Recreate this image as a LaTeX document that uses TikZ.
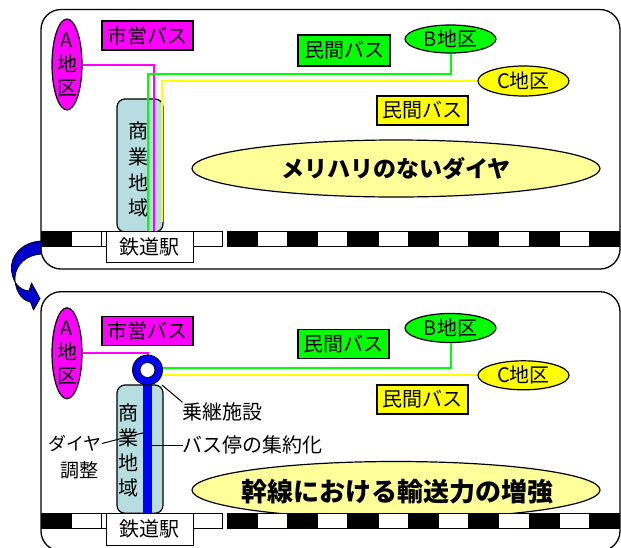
\documentclass[tikz,border=0pt]{standalone}
\usepackage{fontspec}
\setmainfont{Noto Sans CJK JP}
\usetikzlibrary{shapes.geometric}
\definecolor{cmag}{HTML}{FF00FF}
\definecolor{cgrn}{HTML}{00FF00}
\definecolor{cyel}{HTML}{FFFF00}
\definecolor{clyel}{HTML}{FFFF99}
\definecolor{ccom}{HTML}{B8DDE1}
\definecolor{cblue}{HTML}{0000FF}
\definecolor{carrow}{HTML}{0000CC}
\tikzset{
  panel/.style={draw=black, line width=1.3pt, rounded corners=20pt, fill=white},
  combox/.style={draw=black, line width=1.2pt, rounded corners=8pt, fill=ccom},
  lbox/.style={draw=black, line width=1.2pt, minimum width=91pt, minimum height=29pt, inner sep=0pt, font=\fontsize{20}{20}\selectfont},
  area/.style={ellipse, draw=black, line width=1.2pt, inner sep=0pt, font=\fontsize{20}{24}\selectfont, align=center},
  bigell/.style={ellipse, draw=black, line width=1.2pt, fill=clyel, inner sep=0pt, minimum width=408pt, minimum height=57pt},
  station/.style={draw=black, line width=1pt, fill=white, minimum width=87pt, inner sep=0pt, font=\fontsize{20}{20}\selectfont},
  vtext/.style={inner sep=0pt, align=center},
  lbl/.style={inner sep=0pt, font=\fontsize{20}{20}\selectfont},
  busline/.style={line width=2pt},
  railb/.style={fill=black, draw=black, line width=0.6pt},
  railw/.style={fill=white, draw=black, line width=0.8pt},
  leader/.style={draw=black, line width=1pt}
}
\begin{document}
\begin{tikzpicture}[x=1pt,y=-1pt]
\useasboundingbox (0,0) rectangle (621,547);
\fill[white] (0,0) rectangle (621,547);

% ---------------- panels ----------------
\draw[panel] (41,9.5) rectangle (620,269);
\begin{scope}
\clip (0,0) rectangle (621,547);
\draw[panel] (41,291.7) rectangle (620,551);
\end{scope}

% ---------------- top panel ----------------
\draw[combox] (117,99) rectangle (163,232);
\node[vtext, font=\fontsize{20}{25.8}\selectfont] (com1) at (138,169.5) {商\\業\\地\\域};

\node[bigell] (diag1) at (396,168.5) {\fontsize{23}{23}\selectfont\bfseries メリハリのないダイヤ};

\node[area, fill=cmag, minimum width=30pt, minimum height=87pt] (A1) at (67,64.5) {A\\地\\区};
\node[area, fill=cgrn, minimum width=91pt, minimum height=28pt] (B1) at (450.5,39) {B地区};
\node[area, fill=cyel, minimum width=91pt, minimum height=30pt] (C1) at (523.5,81) {C地区};

\draw[busline, cmag] (A1.east) -| (154,233);
\draw[busline, cgrn] (B1.south) |- (148,74) -- (148,231);
\draw[busline, cyel] (C1.west) -| (162,222);

\node[lbox, fill=cmag] (city1) at (147.5,35.5) {市営バス};
\node[lbox, fill=cgrn, minimum width=92pt, minimum height=31pt] (pg1) at (344,50.5) {民間バス};
\node[lbox, fill=cyel] (py1) at (422.5,110.5) {民間バス};

% ---------------- bottom panel ----------------
\draw[combox] (117,385) rectangle (163,513.3);
\node[vtext, font=\fontsize{20}{25}\selectfont] (com2) at (128,450.5) {商\\業\\地\\域};

\node[bigell] (diag2) at (396,490) {};
\node[inner sep=0pt, font=\fontsize{26}{26}\selectfont\bfseries] (diag2t) at (397,491.7) {幹線における輸送力の増強};

\node[area, fill=cmag, minimum width=30pt, minimum height=87pt] (A2) at (67,353.3) {A\\地\\区};
\node[area, fill=cgrn, minimum width=91pt, minimum height=29pt] (B2) at (450.5,328) {B地区};
\node[area, fill=cyel, minimum width=91pt, minimum height=29pt] (C2) at (523.5,375.3) {C地区};

\coordinate (hubc) at (147.5,370);
\draw[busline, cmag] (A2.east) -| (147.5,356);
\draw[busline, cgrn] (147.5,367.5) -| (B2.south);
\draw[busline, cyel] (147.5,375.3) -- (C2.west);

\node[lbl, font=\fontsize{18}{18}\selectfont, anchor=east] (dia) at (102,443.5) {ダイヤ};
\node[lbl, font=\fontsize{19}{19}\selectfont] (chosei) at (79,470) {調整};
\draw[leader] (dia.east) -- (147.5,431.7);

\coordinate (trunkend) at (147.5,513);
\draw[cblue, line width=8.4pt] (hubc) -- (trunkend);
\node[circle, draw=black, line width=0.8pt, fill=cblue, minimum size=30pt, inner sep=0pt] (hub) at (hubc) {};
\node[circle, draw=black, line width=0.8pt, fill=white, minimum size=15pt, inner sep=0pt] (hubin) at (hubc) {};

\node[lbox, fill=cmag] (city2) at (147.5,331.3) {市営バス};
\node[lbox, fill=cgrn] (pg2) at (343.5,343.8) {民間バス};
\node[lbox, fill=cyel] (py2) at (422.5,399.5) {民間バス};

\node[lbl, anchor=west] (transfer) at (182.5,411.7) {乗継施設};
\node[lbl, anchor=west] (busstop) at (182.5,445) {バス停の集約化};
\coordinate (trunkE) at (151.7,445);
\draw[leader] (162,385) -- (transfer.north west);
\draw[leader] (trunkE) -- (busstop.west);

% ---------------- rails ----------------
\foreach \ry in {231.7,513.3}{
  \draw[railb] (41.5,\ry) rectangle ({71.7},{\ry+15});
  \draw[railw] (71.7,\ry) rectangle ({101.7},{\ry+15});
  \draw[railw] (101.7,\ry) rectangle ({222.5},{\ry+15});
  \foreach \i in {0,...,12}{
    \pgfmathsetmacro{\xa}{227+30.2*\i}
    \pgfmathsetmacro{\xb}{227+30.2*(\i+1)}
    \ifodd\i
      \draw[railw] (\xa,\ry) rectangle (\xb,{\ry+15});
    \else
      \draw[railb] (\xa,\ry) rectangle (\xb,{\ry+15});
    \fi
  }
}
\node[station, minimum height=30.5pt] (st1) at (149.5,247) {鉄道駅};
\node[station, minimum height=31.7pt] (st2) at (149.5,529.2) {鉄道駅};

% ---------------- transition arrow ----------------
\draw[fill=carrow, draw=black, line width=0.8pt, line join=round]
  (41,241) .. controls (22,242) and (10,256) .. (11.5,270)
  .. controls (12.5,282) and (19,290) .. (29,291)
  -- (31.5,283) -- (40,298.5) -- (33.5,310) -- (30.5,302)
  .. controls (20,300) and (14.5,288) .. (15,277)
  .. controls (16,264) and (27,255) .. (41,254) -- cycle;
\end{tikzpicture}
\end{document}
